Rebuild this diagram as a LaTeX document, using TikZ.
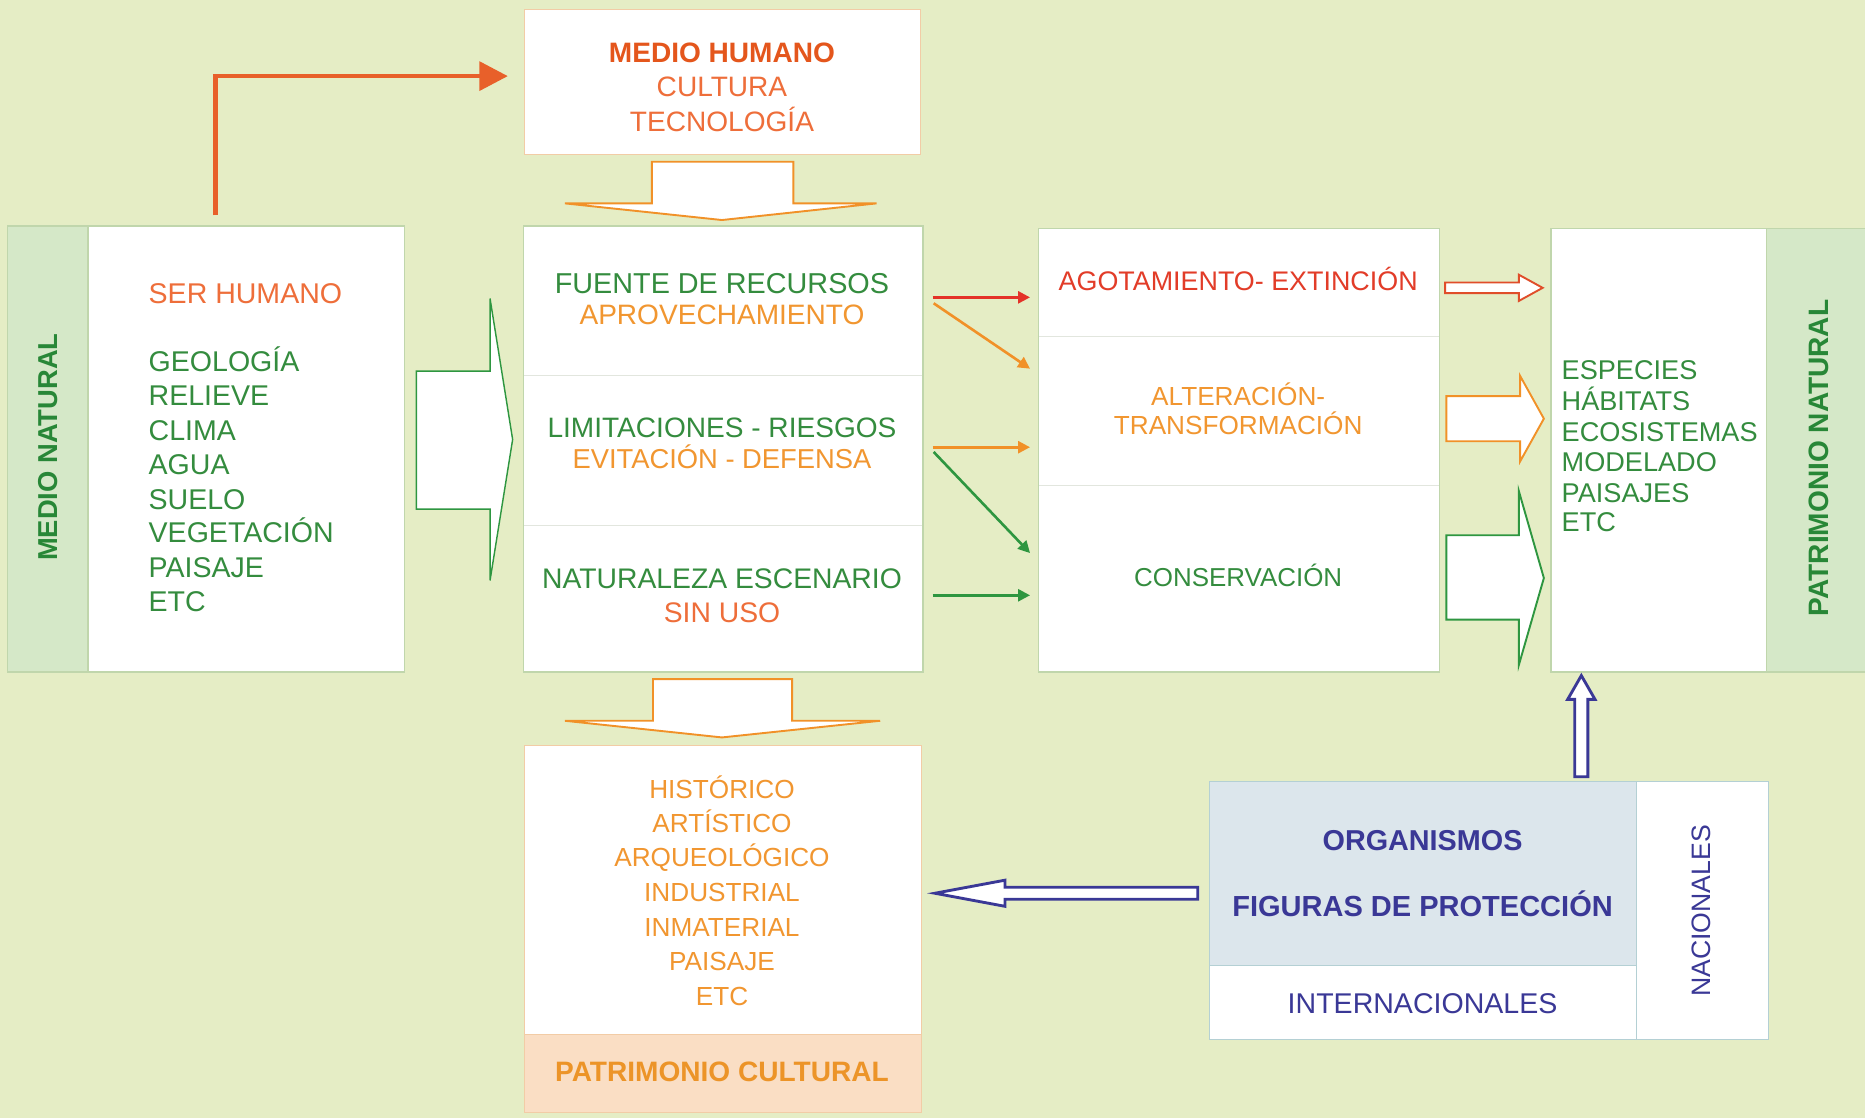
\documentclass[tikz,border=0pt]{standalone}
\usepackage{fontspec}
\setmainfont{Liberation Sans}
\usetikzlibrary{fit,arrows.meta}
\definecolor{bgc}{RGB}{229,237,197}
\definecolor{stripeg}{RGB}{213,232,200}
\definecolor{lineg}{RGB}{192,214,172}
\definecolor{divc}{RGB}{226,230,222}
\definecolor{gtext}{RGB}{52,140,62}
\definecolor{gdark}{RGB}{40,135,55}
\definecolor{otext}{RGB}{241,150,48}
\definecolor{ortext}{RGB}{238,110,58}
\definecolor{mhred}{RGB}{228,86,28}
\definecolor{rtext}{RGB}{226,60,40}
\definecolor{btext}{RGB}{58,56,150}
\definecolor{orgbg}{RGB}{220,230,236}
\definecolor{orgline}{RGB}{180,208,212}
\definecolor{cultbg}{RGB}{250,222,196}
\definecolor{cultline}{RGB}{242,204,166}
\definecolor{pctext}{RGB}{236,148,40}
\definecolor{arrg}{RGB}{46,150,64}
\definecolor{arro}{RGB}{241,145,40}
\definecolor{arrr}{RGB}{228,50,40}
\definecolor{elbowc}{RGB}{232,96,42}
\definecolor{blkr}{RGB}{224,78,42}
\tikzset{
  box/.style={draw=lineg, fill=white, line width=0.5pt, inner sep=0pt, outer sep=0pt},
  sect/.style={draw=divc, fill=white, line width=0.5pt, inner sep=0pt, outer sep=0pt},
  txt/.style={inner sep=0pt, outer sep=0pt, text height=0.716em, text depth=0pt},
  fsz/.style={font=\fontsize{#1}{#1}\selectfont},
  sarrow/.style={line width=1.1pt, -{Triangle[length=5pt,width=5pt]}},
  blk/.style={fill=white, line width=0.8pt, line join=miter},
  hollow/.style={fill=white, draw=btext, line width=1.2pt, line join=miter}
}
\begin{document}
\begin{tikzpicture}[x=0.5pt,y=-0.5pt]
\fill[bgc] (0,0) rectangle (1568,940);
\useasboundingbox (0,0) rectangle (1568,940);

% ---------- MEDIO HUMANO ----------
\node[box, draw=cultline, fit={(441,8)(774,130)}] (mh) {};
\node[txt,fsz=11.8,text=mhred] (mh1) at (607,45) {\bfseries MEDIO HUMANO};
\node[txt,fsz=11.8,text=ortext] (mh2) at (607,74) {CULTURA};
\node[txt,fsz=11.8,text=ortext] (mh3) at (607,103) {TECNOLOGÍA};

% ---------- MEDIO NATURAL ----------
\node[box, fit={(6,190)(340,565)}] (ln) {};
\node[box, fill=stripeg, fit={(6,190)(74,565)}] (lns) {};
\node[txt,fsz=11.5,text=gdark,rotate=90] (mn) at (41,376) {\bfseries MEDIO NATURAL};
\node[txt,fsz=12,text=ortext,anchor=west] (sh) at (125,248) {SER HUMANO};
\foreach \t/\yy [count=\i] in {GEOLOGÍA/305,RELIEVE/334,CLIMA/363,AGUA/392,SUELO/421,VEGETACIÓN/449,PAISAJE/478,ETC/507}
  \node[txt,fsz=12,text=gtext,anchor=west] (lt\i) at (125,\yy) {\t};

% ---------- middle column ----------
\node[sect, fit={(440,190)(776,316)}] (m1) {};
\node[sect, fit={(440,316)(776,442)}] (m2) {};
\node[sect, fit={(440,442)(776,565)}] (m3) {};
\node[draw=lineg, line width=0.5pt, inner sep=0pt, fit={(440,190)(776,565)}] (mid) {};
\node[txt,fsz=12.1,text=gtext] (m1a) at (607,240) {FUENTE DE RECURSOS};
\node[txt,fsz=11.8,text=otext] (m1b) at (607,266) {APROVECHAMIENTO};
\node[txt,fsz=11.8,text=gtext] (m2a) at (607,361) {LIMITACIONES - RIESGOS};
\node[txt,fsz=11.5,text=otext] (m2b) at (607,387) {EVITACIÓN - DEFENSA};
\node[txt,fsz=11.9,text=gtext] (m3a) at (607,488) {NATURALEZA ESCENARIO};
\node[txt,fsz=11.9,text=ortext] (m3b) at (607,516) {SIN USO};

% ---------- effects column ----------
\node[sect, fit={(873,192)(1210,283)}] (r1) {};
\node[sect, fit={(873,283)(1210,408)}] (r2) {};
\node[sect, fit={(873,408)(1210,565)}] (r3) {};
\node[draw=lineg, line width=0.5pt, inner sep=0pt, fit={(873,192)(1210,565)}] (eff) {};
\node[txt,fsz=11.3,text=rtext] (r1a) at (1041,237) {AGOTAMIENTO- EXTINCIÓN};
\node[txt,fsz=11,text=otext] (r2a) at (1041,334) {ALTERACIÓN-};
\node[txt,fsz=11,text=otext] (r2b) at (1041,358) {TRANSFORMACIÓN};
\node[txt,fsz=10.9,text=gtext] (r3a) at (1041,486) {CONSERVACIÓN};

% ---------- PATRIMONIO NATURAL ----------
\node[box, fit={(1304,192)(1572,565)}] (pn) {};
\node[box, fill=stripeg, fit={(1485,192)(1572,565)}] (pns) {};
\node[txt,fsz=11.8,text=gdark,rotate=90] (pnt) at (1530,385) {\bfseries PATRIMONIO NATURAL};
\foreach \t/\yy [count=\i] in {ESPECIES/312,HÁBITATS/338,ECOSISTEMAS/364,MODELADO/389.5,PAISAJES/415,ETC/440}
  \node[txt,fsz=11.4,text=gtext,anchor=west] (pl\i) at (1313,\yy) {\t};

% ---------- PATRIMONIO CULTURAL ----------
\node[box, draw=cultline, fit={(441,627)(775,935)}] (pc) {};
\node[box, draw=cultline, fill=cultbg, fit={(441,870)(775,935)}] (pcs) {};
\foreach \t/\yy [count=\i] in {HISTÓRICO/664,ARTÍSTICO/693,ARQUEOLÓGICO/721.6,INDUSTRIAL/751,INMATERIAL/780,PAISAJE/809,ETC/838}
  \node[txt,fsz=11,text=otext] (cl\i) at (607,\yy) {\t};
\node[txt,fsz=11.8,text=pctext] (pct) at (607,902) {\bfseries PATRIMONIO CULTURAL};

% ---------- ORGANISMOS ----------
\node[box, draw=orgline, fill=orgbg, fit={(1017,657)(1376,812)}] (og) {};
\node[box, draw=orgline, fit={(1017,812)(1376,874)}] (oi) {};
\node[box, draw=orgline, fit={(1376,657)(1487,874)}] (on) {};
\node[txt,fsz=12.1,text=btext] (og1) at (1196,708) {\bfseries ORGANISMOS};
\node[txt,fsz=12.2,text=btext] (og2) at (1196,763) {\bfseries FIGURAS DE PROTECCIÓN};
\node[txt,fsz=12,text=btext] (oit) at (1196,845) {INTERNACIONALES};
\node[txt,fsz=11.2,text=btext,rotate=90] (ont) at (1431,766) {NACIONALES};

% ---------- elbow arrow ----------
\coordinate (e1) at (181,181);
\coordinate (e2) at (427,64);
\draw[elbowc, line width=2pt, -{Triangle[length=12pt,width=12pt]}] (e1) |- (e2);

% ---------- block arrows ----------
\draw[blk, draw=arro] (548,136) -- (667,136) -- (667,171) -- (737,171) -- (607,185) -- (475,171) -- (548,171) -- cycle;
\draw[blk, draw=arro] (549,571) -- (666,571) -- (666,606) -- (740,606) -- (607,620) -- (475,606) -- (549,606) -- cycle;
\draw[blk, draw=arrg, line width=0.6pt] (350,312) -- (412,312) -- (412,251) -- (431,369.5) -- (412,488) -- (412,428) -- (350,428) -- cycle;
\draw[blk, draw=blkr] (1215,237.5) -- (1277,237.5) -- (1277,231) -- (1297,242) -- (1277,253) -- (1277,246.5) -- (1215,246.5) -- cycle;
\draw[blk, draw=arro] (1216,333) -- (1278,333) -- (1278,316) -- (1298,352) -- (1278,388) -- (1278,371) -- (1216,371) -- cycle;
\draw[blk, draw=arrg] (1216,450) -- (1277,450) -- (1277,413) -- (1298,486) -- (1277,559) -- (1277,521) -- (1216,521) -- cycle;

% ---------- hollow blue arrows ----------
\draw[hollow] (1324,653) -- (1324,588) -- (1318,588) -- (1329.5,568) -- (1341,588) -- (1335,588) -- (1335,653) -- cycle;
\draw[hollow] (1007,746) -- (845,746) -- (845,740) -- (786,751) -- (845,762) -- (845,756) -- (1007,756) -- cycle;

% ---------- small arrows ----------
\coordinate (s1) at (784,250);   \coordinate (t1) at (866,250);
\coordinate (s2) at (785,255);   \coordinate (t2) at (866,310);
\coordinate (s3) at (784,376);   \coordinate (t3) at (866,376);
\coordinate (s4) at (785,380);   \coordinate (t4) at (866,465);
\coordinate (s5) at (784,500.5); \coordinate (t5) at (866,500.5);
\draw[sarrow, arrr] (s1) -- (t1);
\draw[sarrow, arro] (s2) -- (t2);
\draw[sarrow, arro] (s3) -- (t3);
\draw[sarrow, arrg] (s4) -- (t4);
\draw[sarrow, arrg] (s5) -- (t5);
\end{tikzpicture}
\end{document}
